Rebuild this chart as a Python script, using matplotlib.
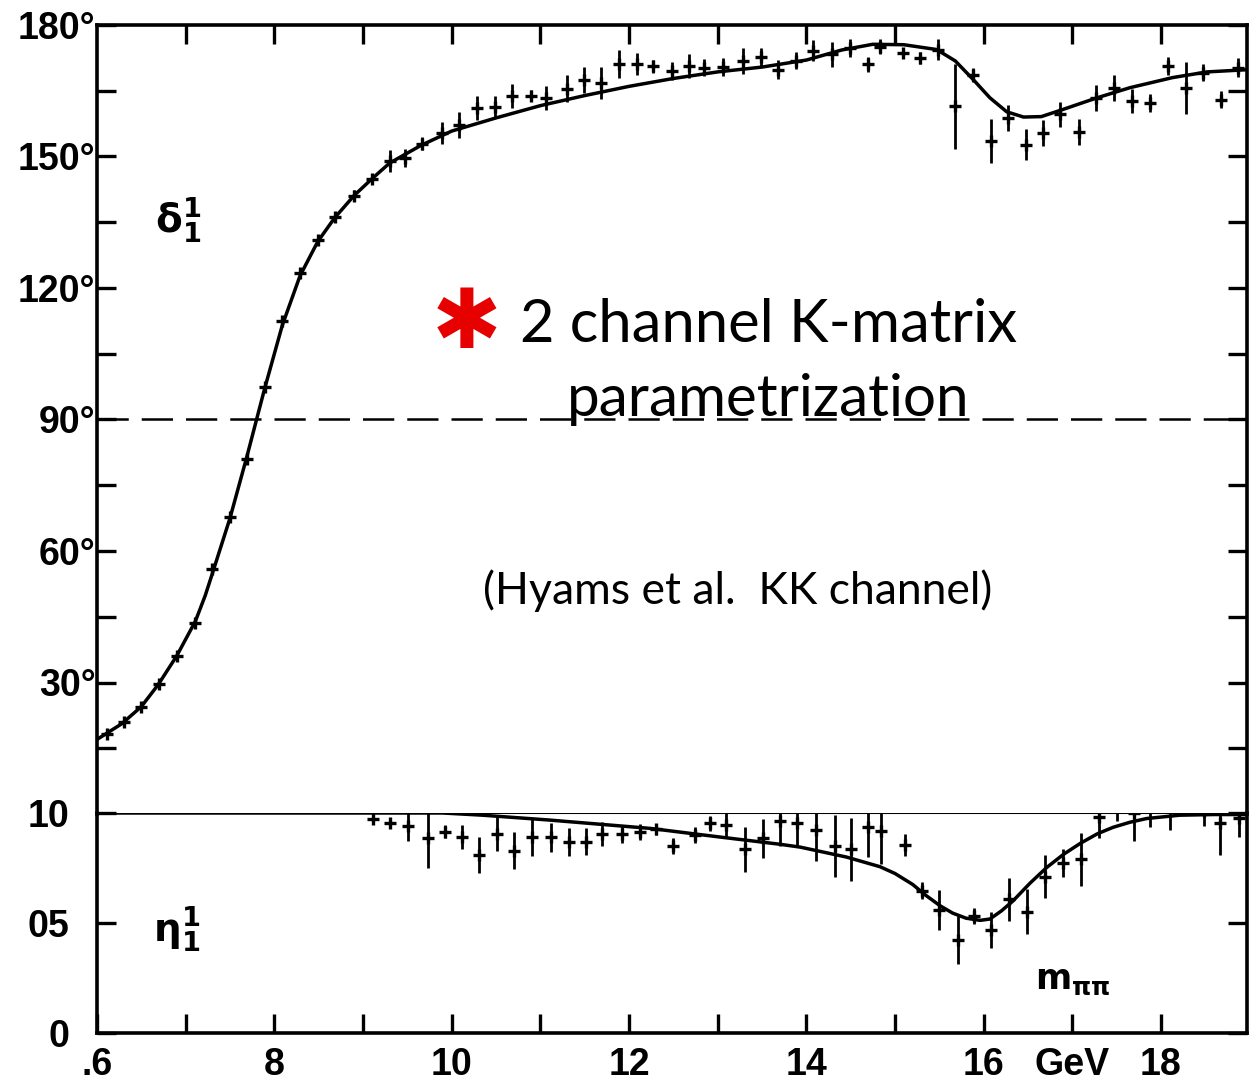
import matplotlib.pyplot as plt
from matplotlib.ticker import FixedLocator, NullFormatter

plt.rcParams['font.family'] = ['Liberation Sans', 'DejaVu Sans']
plt.rcParams['mathtext.fontset'] = 'dejavusans'

# phase shift delta_1^1 : fitted curve (GeV, degrees)
delta_fit_m = [0.600, 0.628, 0.650, 0.669, 0.690, 0.711, 0.722, 0.730, 0.750, 0.769,
               0.789, 0.809, 0.829, 0.849, 0.868, 0.890, 0.910, 0.930, 0.966,
               1.000, 1.050, 1.100, 1.150, 1.200, 1.250, 1.300, 1.350, 1.400, 1.440,
               1.475, 1.510, 1.547, 1.568, 1.588, 1.607, 1.626, 1.645, 1.665, 1.686,
               1.728, 1.765, 1.813, 1.852, 1.897]
delta_fit = [17.0, 20.6, 24.5, 29.5, 36.1, 44.0, 49.8, 54.8, 67.5, 81.5,
             97.0, 111.5, 122.8, 130.6, 136.0, 141.1, 144.9, 148.5, 152.6,
             155.8, 158.8, 161.6, 163.9, 166.0, 167.8, 169.3, 170.4, 172.0, 174.3,
             175.6, 175.5, 174.4, 171.8, 167.6, 163.4, 160.2, 159.0, 159.1, 160.5,
             163.4, 165.7, 168.0, 169.3, 169.8]

# phase shift delta_1^1 : measured points
delta_m = [0.611, 0.630, 0.650, 0.670, 0.690, 0.710, 0.730, 0.750, 0.769, 0.789,
           0.809, 0.829, 0.849, 0.868, 0.890, 0.910, 0.930, 0.947, 0.966, 0.989,
           1.008, 1.029, 1.049, 1.068, 1.089, 1.106, 1.130, 1.149, 1.168, 1.189,
           1.209, 1.227, 1.248, 1.268, 1.285, 1.306, 1.329, 1.349, 1.368, 1.388,
           1.407, 1.429, 1.449, 1.469, 1.483, 1.509, 1.528, 1.548, 1.568, 1.588,
           1.608, 1.628, 1.648, 1.667, 1.686, 1.707, 1.727, 1.747, 1.767, 1.788,
           1.808, 1.828, 1.847, 1.868, 1.887]
delta_val = [18.3, 21.0, 24.5, 29.7, 36.1, 43.6, 55.8, 67.7, 80.9, 97.4,
             112.4, 123.5, 130.9, 136.2, 141.1, 144.9, 149.0, 149.7, 152.9, 155.4,
             157.2, 161.1, 161.3, 163.8, 163.9, 163.4, 165.5, 167.4, 166.8, 171.0,
             171.0, 170.6, 169.5, 170.6, 170.3, 170.4, 171.8, 172.7, 169.8, 171.9,
             174.1, 173.3, 174.8, 171.0, 175.0, 173.5, 172.5, 174.4, 161.5, 168.6,
             153.6, 158.8, 152.7, 155.4, 159.6, 155.6, 163.4, 165.7, 162.6, 162.2,
             170.6, 165.7, 169.1, 163.0, 170.3]
delta_err = [0.8, 0.8, 0.8, 0.8, 0.8, 0.8, 0.8, 0.8, 1.0, 1.0,
             1.0, 1.0, 1.0, 1.0, 1.2, 1.2, 2.5, 2.0, 1.5, 2.5,
             3.0, 2.8, 2.6, 2.8, 1.3, 2.7, 3.0, 3.0, 3.6, 3.2,
             2.5, 1.5, 2.0, 2.8, 2.0, 2.0, 2.9, 2.0, 2.2, 1.9,
             2.4, 2.8, 2.0, 1.8, 1.7, 1.0, 1.4, 2.4, 9.7, 1.5,
             5.0, 2.9, 3.6, 3.0, 2.9, 2.9, 3.0, 3.0, 2.7, 2.0,
             2.0, 5.9, 1.9, 2.0, 2.1]

# inelasticity eta_1^1 : fitted curve
eta_fit_m = [0.600, 0.990, 1.035, 1.110, 1.224, 1.300, 1.370, 1.393, 1.445, 1.483,
             1.500, 1.520, 1.535, 1.551, 1.565, 1.580, 1.596, 1.607, 1.620, 1.633,
             1.652, 1.671, 1.690, 1.709, 1.728, 1.746, 1.765, 1.784, 1.821, 1.860,
             1.897]
eta_fit = [1.000, 1.000, 0.990, 0.968, 0.930, 0.892, 0.858, 0.845, 0.800, 0.756,
           0.725, 0.675, 0.625, 0.578, 0.545, 0.522, 0.512, 0.518, 0.555, 0.600,
           0.680, 0.752, 0.812, 0.862, 0.905, 0.935, 0.958, 0.975, 0.990, 0.993,
           0.993]

# inelasticity eta_1^1 : measured points
eta_m = [0.911, 0.931, 0.951, 0.973, 0.993, 1.012, 1.031, 1.051, 1.070, 1.091,
         1.112, 1.132, 1.151, 1.170, 1.192, 1.212, 1.230, 1.250, 1.274, 1.291,
         1.309, 1.331, 1.351, 1.370, 1.390, 1.411, 1.432, 1.450, 1.470, 1.484,
         1.511, 1.531, 1.550, 1.571, 1.589, 1.608, 1.629, 1.649, 1.669, 1.689,
         1.710, 1.730, 1.750, 1.769, 1.788, 1.810, 1.829, 1.848, 1.867, 1.888]
eta_val = [0.971, 0.956, 0.942, 0.885, 0.915, 0.892, 0.809, 0.904, 0.829, 0.889,
           0.889, 0.870, 0.870, 0.904, 0.904, 0.915, 0.926, 0.850, 0.900, 0.953,
           0.945, 0.835, 0.885, 0.965, 0.953, 0.923, 0.850, 0.835, 0.938, 0.920,
           0.855, 0.647, 0.559, 0.423, 0.532, 0.468, 0.608, 0.552, 0.711, 0.771,
           0.789, 0.983, 1.036, 0.998, 1.062, 1.041, 1.158, 1.011, 0.953, 0.976]
eta_err = [0.010, 0.012, 0.068, 0.136, 0.030, 0.055, 0.080, 0.078, 0.085, 0.085,
           0.064, 0.064, 0.060, 0.053, 0.040, 0.036, 0.024, 0.038, 0.035, 0.035,
           0.055, 0.102, 0.089, 0.114, 0.098, 0.142, 0.140, 0.144, 0.136, 0.150,
           0.050, 0.038, 0.090, 0.110, 0.038, 0.082, 0.097, 0.104, 0.098, 0.064,
           0.120, 0.095, 0.073, 0.125, 0.125, 0.120, 0.060, 0.072, 0.144, 0.083]

x_ticks = [0.6, 0.7, 0.8, 0.9, 1.0, 1.1, 1.2, 1.3, 1.4, 1.5, 1.6, 1.7, 1.8]
x_labels = ['.6', '', '8', '', '10', '', '12', '', '14', '', '16', 'GeV', '18']
deg_major = [30, 60, 90, 120, 150, 180]
deg_minor = [15, 45, 75, 105, 135, 165]
deg_labels = ['30°', '60°', '90°', '120°', '150°', '180°']
eta_ticks = [0, 0.5, 1.0]
eta_labels = ['0', '05', '10']

W, H = 1258, 1085
fig = plt.figure(figsize=(W / 100, H / 100), dpi=100)
ax = fig.add_axes([97 / W, 1 - 814 / H, 1150 / W, 789 / H])
axb = fig.add_axes([97 / W, 1 - 1033 / H, 1150 / W, 220 / H])

xmin, xmax = 0.6, 1.897
spine_w = 2.6

# upper panel: delta
ax.plot(delta_fit_m, delta_fit, color='black', lw=2.5, zorder=3)
ax.errorbar(delta_m, delta_val, yerr=delta_err, fmt='+', color='black',
            ms=9, mew=2.4, elinewidth=2.0, capsize=0, zorder=4)
ax.axhline(90, color='black', lw=1.8, ls=(0, (12.5, 5.2)), zorder=2)
ax.set_xlim(xmin, xmax)
ax.set_ylim(0, 180)
ax.spines['bottom'].set_visible(False)
for s in ['left', 'right', 'top']:
    ax.spines[s].set_linewidth(spine_w)
ax.yaxis.set_major_locator(FixedLocator(deg_major))
ax.yaxis.set_minor_locator(FixedLocator(deg_minor))
ax.set_yticklabels(deg_labels, fontweight='bold')
ax.xaxis.set_major_locator(FixedLocator(x_ticks[1:]))
ax.xaxis.set_major_formatter(NullFormatter())
ax.tick_params(axis='both', which='both', direction='in', length=14, width=2.4)
ax.tick_params(axis='x', bottom=False, top=True, labelbottom=False)
ax.tick_params(axis='y', which='both', left=True, right=True)
ax.tick_params(axis='y', labelsize=27, pad=1)
ax.patch.set_alpha(0)

# lower panel: eta
axb.plot(eta_fit_m, eta_fit, color='black', lw=2.5, zorder=3)
axb.errorbar(eta_m, eta_val, yerr=eta_err, fmt='+', color='black',
             ms=9, mew=2.4, elinewidth=2.0, capsize=0, zorder=4)
axb.axhline(1.0, color='black', lw=1.5, zorder=2)
axb.set_xlim(xmin, xmax)
axb.set_ylim(0, 1.0)
axb.spines['top'].set_visible(False)
for s in ['left', 'right', 'bottom']:
    axb.spines[s].set_linewidth(spine_w)
axb.set_yticks(eta_ticks)
axb.set_yticklabels(eta_labels, fontweight='bold')
axb.set_xticks(x_ticks)
axb.set_xticklabels(x_labels, fontweight='bold')
axb.tick_params(axis='both', direction='in', length=14, width=2.4)
axb.tick_params(axis='y', left=True, right=True, labelsize=27, pad=20)
axb.tick_params(axis='x', labelsize=27, pad=10)
axb.patch.set_alpha(0)

# panel symbols
ax.text(0.692, 135.5, r'$\mathbf{\delta}_\mathbf{1}^\mathbf{1}$', fontsize=28,
        ha='center', va='center')
axb.text(0.690, 0.47, r'$\mathbf{\eta}_\mathbf{1}^\mathbf{1}$', fontsize=28,
         ha='center', va='center')
axb.text(1.700, 0.24, r'$\mathbf{m}_{\mathbf{\pi\pi}}$', fontsize=25,
         ha='center', va='center')

# overlaid caption
fig.text(467 / W, 1 - 325 / H, '✱', color='#e60000', fontsize=60,
         family='DejaVu Sans', fontweight='bold', ha='center', va='center')
fig.text(520 / W, 1 - 342 / H, '2 channel K-matrix', fontsize=43,
         family='Lato', ha='left', va='baseline')
fig.text(768 / W, 1 - 416 / H, 'parametrization', fontsize=42,
         family='Lato', ha='center', va='baseline')
fig.text(738 / W, 1 - 604 / H, '(Hyams et al.  KK channel)', fontsize=32,
         family='Lato', ha='center', va='baseline')

fig.savefig('out.png', dpi=100, facecolor='white')
